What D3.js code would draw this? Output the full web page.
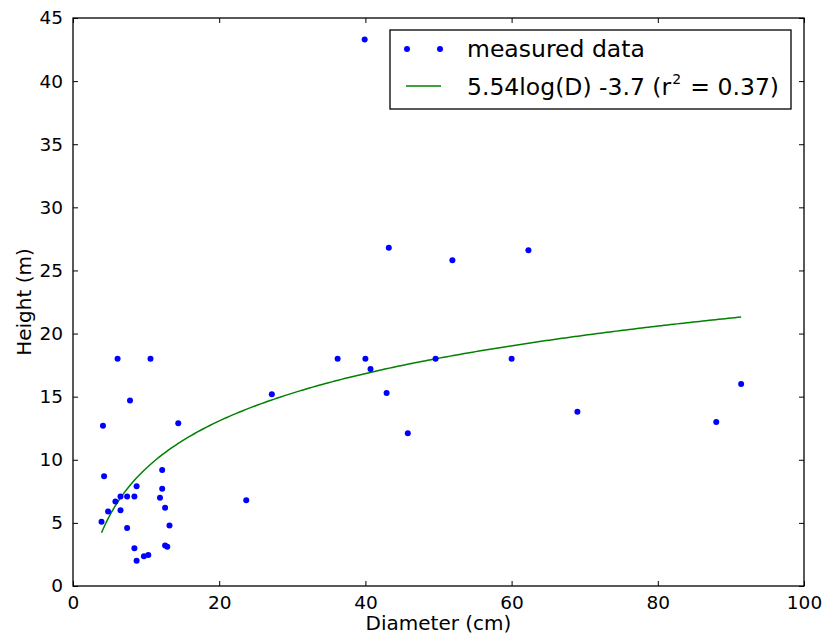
<!DOCTYPE html>
<html>
<head>
<meta charset="utf-8">
<script src="https://cdn.jsdelivr.net/npm/d3@7"></script>
<style>
  body { margin: 0; background: #fff; }
  text { font-family: "DejaVu Sans", sans-serif; fill: #000; }
</style>
</head>
<body>
<script>
// measured tree data: diameter (cm) and height (m)
const diameters = [
  6.1, 10.6, 7.8, 4.1, 14.4, 12.2, 4.25, 8.7, 12.2, 6.5, 7.4, 8.4,
  11.9, 5.8, 12.6, 6.5, 4.8, 3.9, 13.2, 7.4, 8.4, 12.6, 12.9, 9.7,
  10.3, 8.7, 23.7, 39.9, 43.2, 51.9, 62.3, 27.2, 36.2, 40.0, 40.7, 49.6,
  60.0, 42.9, 45.8, 69.0, 88.0, 91.4
];
const heights = [
  18.0, 18.0, 14.7, 12.7, 12.9, 9.2, 8.7, 7.9, 7.7, 7.1, 7.1, 7.1,
  7.0, 6.7, 6.2, 6.0, 5.9, 5.1, 4.8, 4.6, 3.0, 3.2, 3.1, 2.35,
  2.45, 2.0, 6.8, 43.3, 26.8, 25.8, 26.6, 15.2, 18.0, 18.0, 17.2, 18.0,
  18.0, 15.3, 12.1, 13.8, 13.0, 16.0
];
// fitted log curve as drawn
const fitA = 5.42, fitB = -3.16;
const xTicks = [0, 20, 40, 60, 80, 100];
const yTicks = [0, 5, 10, 15, 20, 25, 30, 35, 40, 45];

const width = 825, height = 635;
const margin = { top: 18, right: 21, bottom: 49, left: 73 };

const svg = d3.select("body").append("svg")
  .attr("width", width)
  .attr("height", height);

const x = d3.scaleLinear().domain([0, 100]).range([margin.left, width - margin.right]);
const y = d3.scaleLinear().domain([0, 45]).range([height - margin.bottom, margin.top]);

// fit line
const xMin = d3.min(diameters), xMax = d3.max(diameters);
const fitPts = d3.range(0, 201).map(i => {
  const d = xMin + (xMax - xMin) * i / 200;
  return [d, fitA * Math.log(d) + fitB];
});
svg.append("path")
  .datum(fitPts)
  .attr("fill", "none")
  .attr("stroke", "#008000")
  .attr("stroke-width", 1.5)
  .attr("d", d3.line().x(d => x(d[0])).y(d => y(d[1])));

// points
svg.append("g").selectAll("circle")
  .data(diameters.map((d, i) => [d, heights[i]]))
  .enter().append("circle")
  .attr("cx", d => x(d[0]))
  .attr("cy", d => y(d[1]))
  .attr("r", 3)
  .attr("fill", "#0000ff");

// axes (ticks inside, on all four sides)
const tl = 5;
svg.append("g")
  .attr("transform", `translate(0,${y(0)})`)
  .call(d3.axisBottom(x).tickValues(xTicks).tickSize(-tl).tickPadding(10).tickFormat(d3.format("d")))
  .call(g => g.select(".domain").remove());
svg.append("g")
  .attr("transform", `translate(0,${y(45)})`)
  .call(d3.axisTop(x).tickValues(xTicks).tickSize(-tl).tickFormat(""))
  .call(g => g.select(".domain").remove());
svg.append("g")
  .attr("transform", `translate(${x(0)},0)`)
  .call(d3.axisLeft(y).tickValues(yTicks).tickSize(-tl).tickPadding(10).tickFormat(d3.format("d")))
  .call(g => g.select(".domain").remove());
svg.append("g")
  .attr("transform", `translate(${x(100)},0)`)
  .call(d3.axisRight(y).tickValues(yTicks).tickSize(-tl).tickFormat(""))
  .call(g => g.select(".domain").remove());

svg.selectAll(".tick line").attr("stroke", "#000").attr("stroke-width", 1);
svg.selectAll(".tick text")
  .style("font-family", "DejaVu Sans")
  .style("font-size", "18.5px")
  .attr("fill", "#000");

// frame
svg.append("rect")
  .attr("x", x(0)).attr("y", y(45))
  .attr("width", x(100) - x(0)).attr("height", y(0) - y(45))
  .attr("fill", "none").attr("stroke", "#000").attr("stroke-width", 1.3);

// axis labels
svg.append("text")
  .attr("x", (x(0) + x(100)) / 2)
  .attr("y", 630)
  .attr("text-anchor", "middle")
  .style("font-size", "20px")
  .text("Diameter (cm)");
svg.append("text")
  .attr("transform", `translate(31,${(y(0) + y(45)) / 2}) rotate(-90)`)
  .attr("text-anchor", "middle")
  .style("font-size", "20px")
  .text("Height (m)");

// legend
const lg = svg.append("g");
lg.append("rect")
  .attr("x", 390).attr("y", 30).attr("width", 401).attr("height", 79)
  .attr("fill", "#fff").attr("stroke", "#000").attr("stroke-width", 1.3);
[407, 440].forEach(cx => {
  lg.append("circle").attr("cx", cx).attr("cy", 49).attr("r", 3).attr("fill", "#0000ff");
});
lg.append("line")
  .attr("x1", 406).attr("x2", 441).attr("y1", 86).attr("y2", 86)
  .attr("stroke", "#008000").attr("stroke-width", 1.5);
lg.append("text")
  .attr("x", 467).attr("y", 57)
  .style("font-size", "23.5px")
  .text("measured data");
const t2 = lg.append("text")
  .attr("x", 467).attr("y", 95)
  .style("font-size", "23.5px");
t2.append("tspan").text("5.54log(D) -3.7 (r");
t2.append("tspan").attr("dy", -11).attr("dx", 1).style("font-size", "14px").text("2");
lg.append("text")
  .attr("x", 779).attr("y", 95)
  .attr("text-anchor", "end")
  .style("font-size", "23.5px")
  .text("= 0.37)");
</script>
</body>
</html>
